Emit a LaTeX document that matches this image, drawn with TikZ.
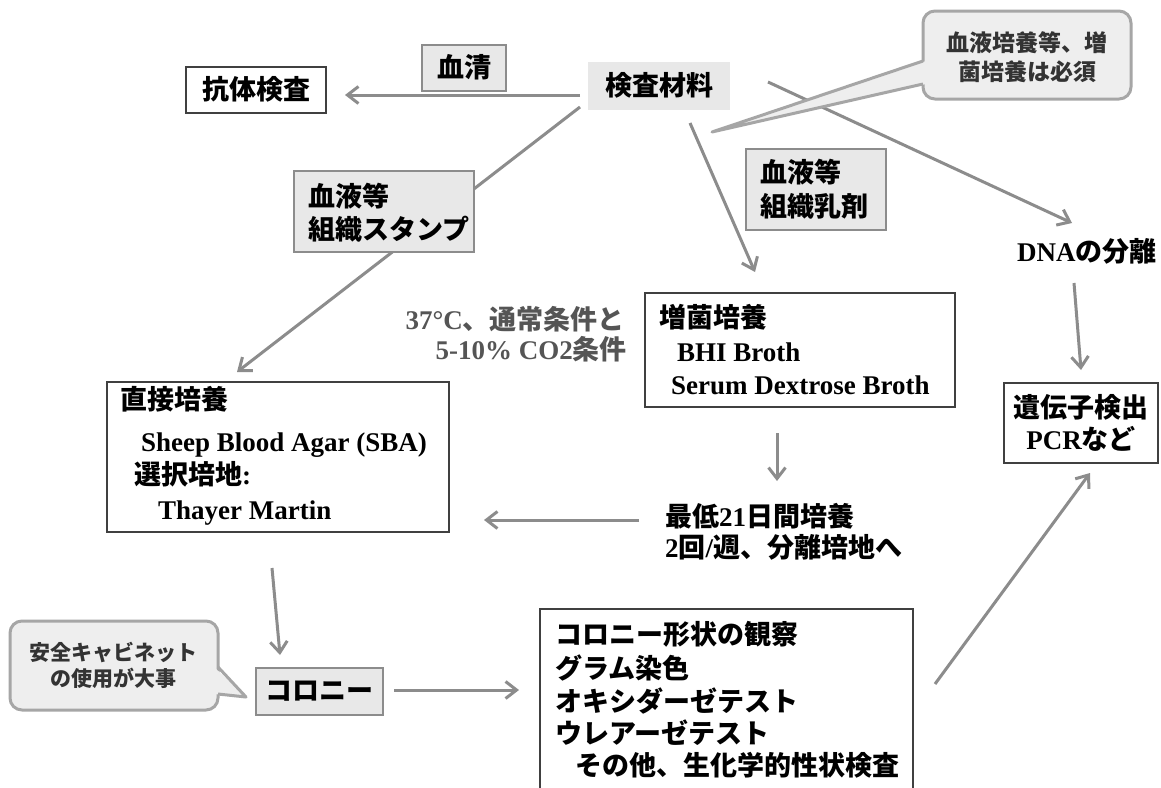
\documentclass[tikz,border=0pt]{standalone}
\usepackage{fontspec}
\setmainfont{Liberation Serif}
\newfontfamily\jpfont{Noto Sans CJK JP}
\usetikzlibrary{arrows.meta}
\definecolor{arr}{HTML}{8C8C8C}
\definecolor{boxfill}{HTML}{E8E8E8}
\definecolor{boxline}{HTML}{8C8C8C}
\definecolor{cfill}{HTML}{EEEEEE}
\definecolor{cline}{HTML}{A6A6A6}
\definecolor{dk}{HTML}{404040}
\definecolor{ctext}{HTML}{333333}
\definecolor{graytext}{HTML}{555555}
\newcommand\JT[1]{{\jpfont #1}}
\begin{document}
\begin{tikzpicture}[x=1pt,y=-1pt,
  arrowline/.style={draw=arr, line width=3pt, -{Straight Barb[length=11pt,width=17pt]}},
  whitebox/.style={draw=dk, line width=2.5pt, fill=white, inner sep=0pt, text height=22pt, text depth=4pt, font=\fontsize{27}{32}\selectfont\bfseries},
  graybox/.style={draw=boxline, line width=2.5pt, fill=boxfill, inner sep=0pt, text height=22pt, text depth=4pt, font=\fontsize{27}{32}\selectfont\bfseries},
  plainbox/.style={fill=boxfill, inner sep=0pt, text height=22pt, text depth=4pt, font=\fontsize{27}{32}\selectfont\bfseries},
  calloutbox/.style={draw=cline, line width=3pt, fill=cfill, rounded corners=12pt, inner sep=0pt},
  txt/.style={inner sep=0pt, anchor=west, text height=22pt, text depth=4pt, font=\fontsize{27}{32}\selectfont\bfseries},
  ctxt/.style={inner sep=0pt, anchor=center, text height=22pt, text depth=4pt, font=\fontsize{27}{32}\selectfont\bfseries}
]
\clip (0,0) rectangle (1161,787);
\fill[white] (0,0) rectangle (1161,787);
\useasboundingbox (0,0) rectangle (1161,787);

% connector end points
\coordinate (a1s) at (580,95);   \coordinate (a1e) at (345,95);
\coordinate (a2s) at (580,107);  \coordinate (a2e) at (237,372);
\coordinate (a3s) at (690,123);  \coordinate (a3e) at (755,272);
\coordinate (a4s) at (768,82);   \coordinate (a4e) at (1072,223);
\coordinate (a5s) at (1074,283); \coordinate (a5e) at (1081,370);
\coordinate (a6s) at (777,433);  \coordinate (a6e) at (777,481);
\coordinate (a7s) at (639,520);  \coordinate (a7e) at (484,520);
\coordinate (a8s) at (272,568);  \coordinate (a8e) at (280,655);
\coordinate (a9s) at (394,690);  \coordinate (a9e) at (519,690);
\coordinate (a10s) at (935,684); \coordinate (a10e) at (1090,473);

% connectors
\draw[arrowline] (a1s) -- (a1e);
\draw[arrowline] (a2s) -- (a2e);
\draw[arrowline] (a3s) -- (a3e);
\draw[arrowline] (a4s) -- (a4e);
\draw[arrowline] (a5s) -- (a5e);
\draw[arrowline] (a6s) -- (a6e);
\draw[arrowline] (a7s) -- (a7e);
\draw[arrowline] (a8s) -- (a8e);
\draw[arrowline] (a9s) -- (a9e);
\draw[arrowline] (a10s) -- (a10e);

% top row
\node[whitebox, minimum width=140pt, minimum height=46pt] (kotai) at (256,90) {\JT{抗体検査}};
\node[graybox, minimum width=84pt, minimum height=46pt] (kessei) at (464,68) {\JT{血清}};
\node[plainbox, minimum width=142pt, minimum height=48pt] (kensa) at (659,86) {\JT{検査材料}};

% stamp box
\node[graybox, minimum width=180pt, minimum height=81pt] (stamp) at (384,211.5) {};
\node[txt] (stampA) at (308,197) {\JT{血液等}};
\node[txt] (stampB) at (308,230) {\JT{組織スタンプ}};

% nyuzai box
\node[graybox, minimum width=140pt, minimum height=81pt] (nyuzai) at (816,189.5) {};
\node[txt] (nyuzaiA) at (760,173) {\JT{血液等}};
\node[txt] (nyuzaiB) at (760,207) {\JT{組織乳剤}};

% DNA
\node[txt] (dna) at (1017,252) {DNA\JT{の分離}};

% enrichment culture
\node[whitebox, minimum width=310pt, minimum height=114pt] (zoukin) at (800,350) {};
\node[txt] (zoukinA) at (659,318) {\JT{増菌培養}};
\node[txt] (zoukinB) at (677,352) {BHI Broth};
\node[txt] (zoukinC) at (671,385) {Serum Dextrose Broth};

% conditions text
\node[txt, anchor=east, text=graytext] (condA) at (625,320) {37°C\JT{、通常条件と}};
\node[txt, anchor=east, text=graytext] (condB) at (627,350) {5-10\% CO2\JT{条件}};

% gene detection
\node[whitebox, minimum width=154pt, minimum height=80pt] (idenshi) at (1081,423) {};
\node[ctxt] (idenshiA) at (1081,408) {\JT{遺伝子検出}};
\node[ctxt] (idenshiB) at (1081,440) {PCR\JT{など}};

% direct culture
\node[whitebox, minimum width=342pt, minimum height=150pt] (choku) at (278,457) {};
\node[txt] (chokuA) at (120,400) {\JT{直接培養}};
\node[txt] (chokuB) at (141,442) {Sheep Blood Agar (SBA)};
\node[txt] (chokuC) at (134,475) {\JT{選択培地}:};
\node[txt] (chokuD) at (158,510) {Thayer Martin};

% 21 days
\node[txt] (saiteiA) at (665,517) {\JT{最低}21\JT{日間培養}};
\node[txt] (saiteiB) at (665,548) {2\JT{回}/\JT{週、分離培地へ}};

% colony
\node[graybox, minimum width=127pt, minimum height=47pt] (colony) at (319.5,691.5) {\JT{コロニー}};

% tests box
\node[whitebox, minimum width=373pt, minimum height=201pt] (tests) at (726.5,709.5) {};
\node[txt] (testA) at (555,635) {\JT{コロニー形状の観察}};
\node[txt] (testB) at (555,669) {\JT{グラム染色}};
\node[txt] (testC) at (555,702) {\JT{オキシダーゼテスト}};
\node[txt] (testD) at (555,734) {\JT{ウレアーゼテスト}};
\node[txt] (testE) at (575,766) {\JT{その他、生化学的性状検査}};

% callout 1
\node[calloutbox, minimum width=208pt, minimum height=88pt] (call1) at (1027,55) {};
\fill[cfill] (926,61) -- (712,132) -- (926,84) -- cycle;
\draw[cline, line width=3pt, line join=round] (923,61) -- (712,132) -- (923,84);
\node[inner sep=0pt, align=center, text=ctext, font=\fontsize{23}{29}\selectfont\bfseries] (call1T) at (1027,57.5) {\JT{血液培養等、増}\\\JT{菌培養は必須}};

% callout 2
\node[calloutbox, minimum width=208pt, minimum height=89pt] (call2) at (114,665.5) {};
\fill[cfill] (214,667) -- (246,697) -- (214,694) -- cycle;
\draw[cline, line width=3pt, line join=round] (218,667) -- (246,697) -- (218,694);
\node[inner sep=0pt, align=center, text=ctext, font=\fontsize{21}{26}\selectfont\bfseries] (call2T) at (113,665) {\JT{安全キャビネット}\\\JT{の使用が大事}};
\end{tikzpicture}
\end{document}
